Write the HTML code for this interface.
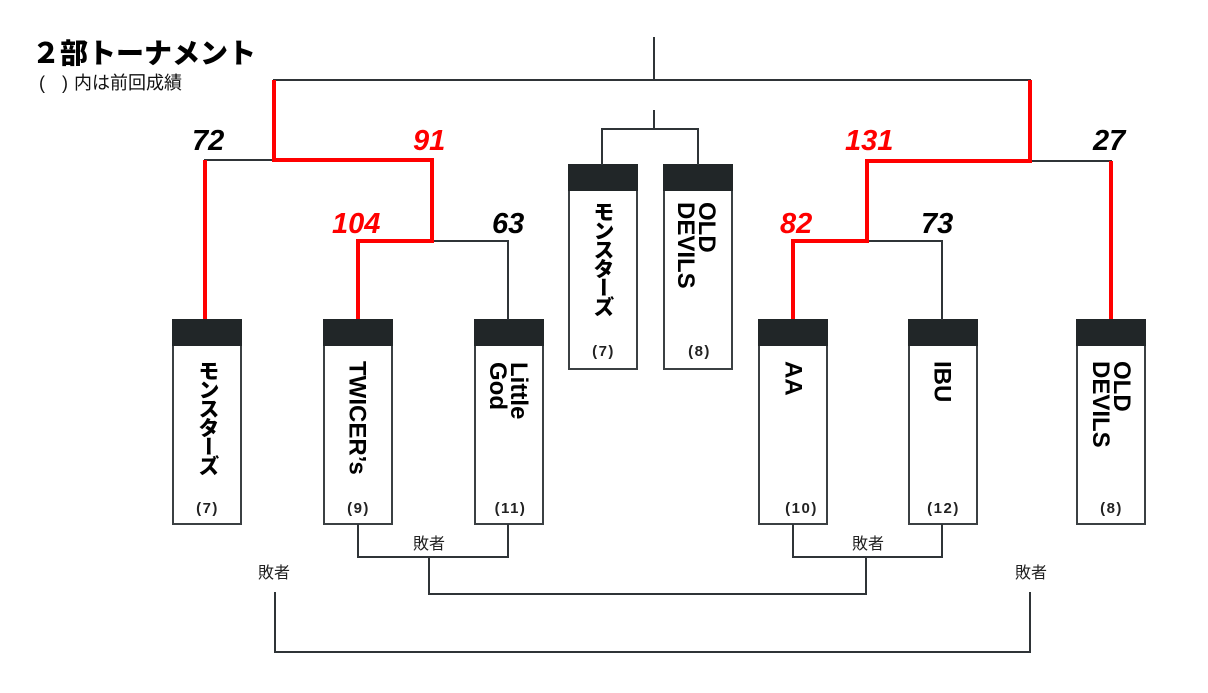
<!DOCTYPE html>
<html><head><meta charset="utf-8">
<style>
html,body{margin:0;padding:0;background:#fff;}
body{width:1208px;height:693px;position:relative;overflow:hidden;font-family:"Liberation Sans","Noto Sans CJK JP",sans-serif;}
svg{position:absolute;left:0;top:0;}
.vl{position:absolute;writing-mode:vertical-rl;font-family:"Liberation Sans","Noto Sans CJK JP",sans-serif;font-weight:bold;font-size:24px;line-height:21px;color:#000;transform:translateX(-50%);white-space:nowrap;}
.jp{font-size:21px;line-height:26px;letter-spacing:-2px;font-weight:900;}
</style></head>
<body>
<svg width="1208" height="693" viewBox="0 0 1208 693">
  <!-- boxes -->
  <g stroke="#3b4043" stroke-width="2" fill="#fff">
    <rect x="173" y="320" width="68" height="204"/>
    <rect x="324" y="320" width="68" height="204"/>
    <rect x="475" y="320" width="68" height="204"/>
    <rect x="759" y="320" width="68" height="204"/>
    <rect x="909" y="320" width="68" height="204"/>
    <rect x="1077" y="320" width="68" height="204"/>
    <rect x="569" y="165" width="68" height="204"/>
    <rect x="664" y="165" width="68" height="204"/>
  </g>
  <g fill="#212628">
    <rect x="172" y="319" width="70" height="27"/>
    <rect x="323" y="319" width="70" height="27"/>
    <rect x="474" y="319" width="70" height="27"/>
    <rect x="758" y="319" width="70" height="27"/>
    <rect x="908" y="319" width="70" height="27"/>
    <rect x="1076" y="319" width="70" height="27"/>
    <rect x="568" y="164" width="70" height="27"/>
    <rect x="663" y="164" width="70" height="27"/>
  </g>
  <!-- black connectors -->
  <g stroke="#2f3437" stroke-width="2" fill="none" stroke-linecap="square">
    <path d="M654 38 V80"/>
    <path d="M274 80 H1030"/>
    <path d="M205 160 H274"/>
    <path d="M432 241 H508 V319"/>
    <path d="M1030 161 H1111"/>
    <path d="M867 241 H942 V319"/>
    <path d="M654 111 V129 M602 164 V129 H698 V164"/>
    <!-- losers -->
    <path d="M358 525 V557 H508 V525"/>
    <path d="M429 557 V594 H866 V557"/>
    <path d="M793 525 V557 H942 V525"/>
    <path d="M275 593 V652 H1030 V593"/>
  </g>
  <!-- red winner paths -->
  <g stroke="#ff0000" stroke-width="4" fill="none" stroke-linejoin="miter">
    <path d="M358 319 V241 H432 V160 H274 V80"/>
    <path d="M205 160 V319"/>
    <path d="M793 319 V241 H867 V161 H1030 V80"/>
    <path d="M1111 161 V319"/>
  </g>
  <!-- scores -->
  <g font-family="Liberation Sans, sans-serif" font-weight="bold" font-style="italic" font-size="29">
    <text x="192" y="150" fill="#000">72</text>
    <text x="413" y="150" fill="#ff0000">91</text>
    <text x="332" y="233" fill="#ff0000">104</text>
    <text x="492" y="233" fill="#000">63</text>
    <text x="845" y="150" fill="#ff0000">131</text>
    <text x="1093" y="150" fill="#000">27</text>
    <text x="780" y="233" fill="#ff0000">82</text>
    <text x="921" y="233" fill="#000">73</text>
  </g>
  <!-- seed labels -->
  <g font-family="Liberation Sans, sans-serif" font-weight="bold" font-size="15" fill="#222" text-anchor="middle" letter-spacing="1.5">
    <text x="207.5" y="513">(7)</text>
    <text x="358.5" y="513">(9)</text>
    <text x="510.5" y="513">(11)</text>
    <text x="801.5" y="513">(10)</text>
    <text x="943.5" y="513">(12)</text>
    <text x="1111.5" y="513">(8)</text>
    <text x="603.5" y="356">(7)</text>
    <text x="699.5" y="356">(8)</text>
  </g>
  <!-- loser labels -->
  <g font-family="Liberation Sans, Noto Sans CJK JP, sans-serif" font-size="16" fill="#222" text-anchor="middle">
    <text x="429" y="549">敗者</text>
    <text x="868" y="549">敗者</text>
    <text x="274" y="578">敗者</text>
    <text x="1031" y="578">敗者</text>
  </g>
  <!-- title -->
  <text x="32" y="63" font-family="Liberation Sans, Noto Sans CJK JP, sans-serif" font-weight="900" font-size="28" fill="#000">２部トーナメント</text>
  <g font-family="Liberation Sans, Noto Sans CJK JP, sans-serif" font-size="18" fill="#111">
    <text x="39" y="89">(</text>
    <text x="62" y="89">)</text>
    <text x="74" y="89">内は前回成績</text>
  </g>
</svg>

<div class="vl jp" style="left:207px;top:360px;">モンスターズ</div>
<div class="vl" style="left:357px;top:361px;">TWICER’s</div>
<div class="vl" style="left:508px;top:362px;">Little<br>God</div>
<div class="vl jp" style="left:602px;top:201px;">モンスターズ</div>
<div class="vl" style="left:696px;top:202px;">OLD<br>DEVILS</div>
<div class="vl" style="left:793px;top:361px;">AA</div>
<div class="vl" style="left:942px;top:361px;">IBU</div>
<div class="vl" style="left:1111px;top:361px;">OLD<br>DEVILS</div>
</body></html>
